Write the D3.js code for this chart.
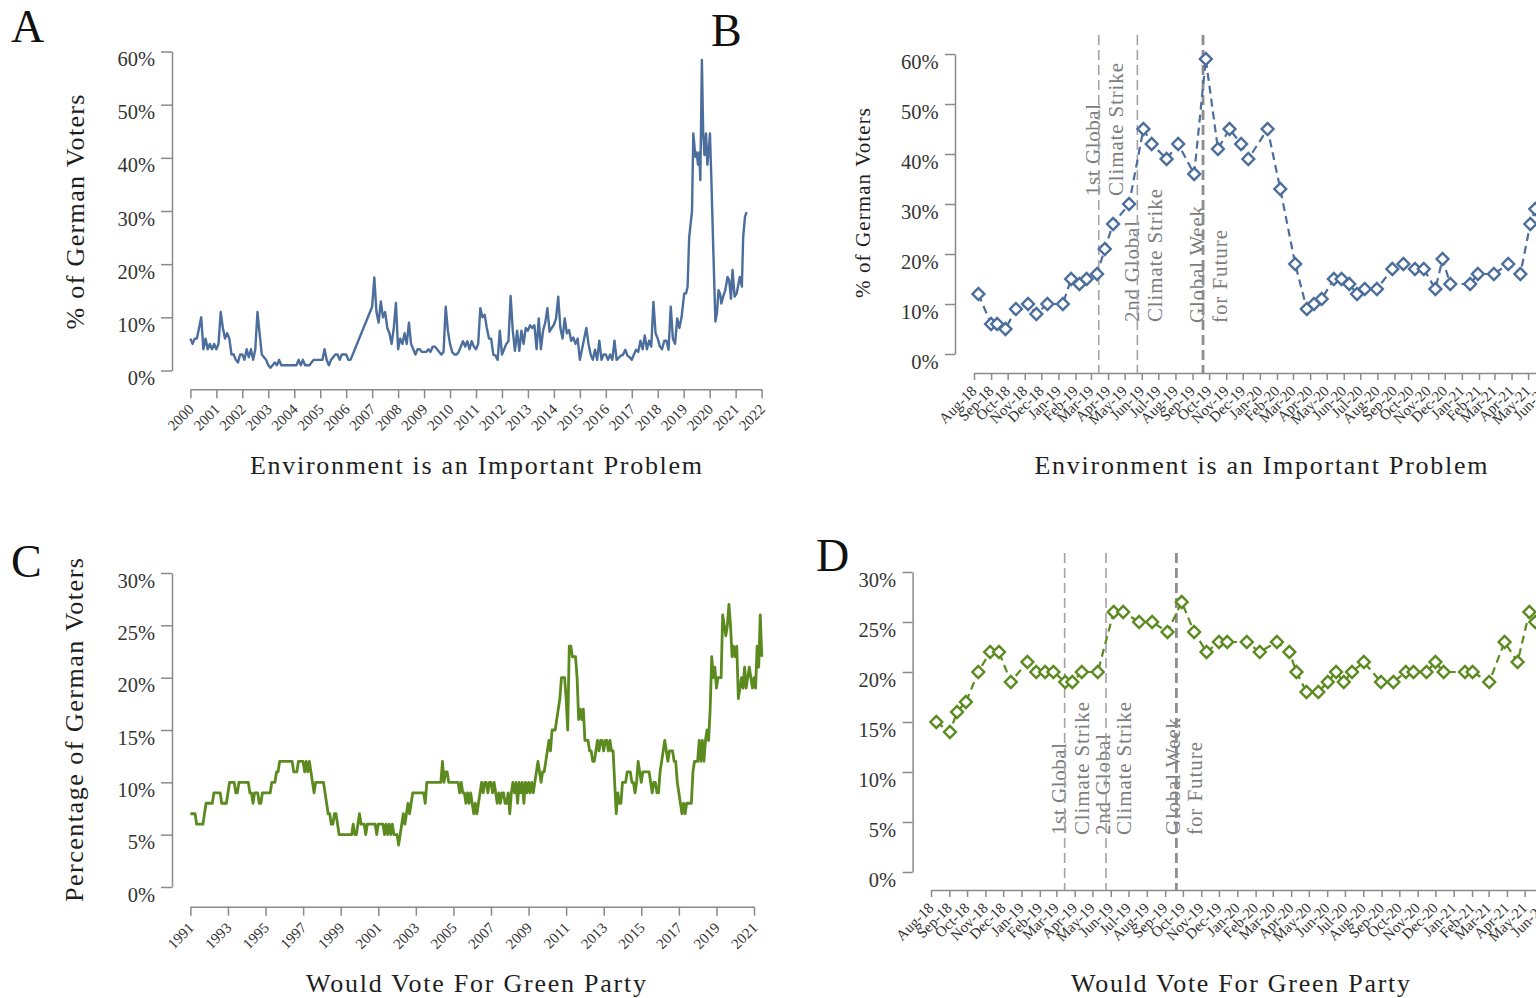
<!DOCTYPE html>
<html><head><meta charset="utf-8">
<script src="https://cdn.jsdelivr.net/npm/d3@7"></script>
<style>
body{margin:0;background:#fff;}
svg{display:block;background:#fff;}
</style></head><body>
<svg id="chart" width="1536" height="998"></svg>
<script>
// ---------------- DATA ----------------
// Panel A: environment is an important problem, monthly from Jan 2000 (null = no survey)
const envStartYear = 2000;
const envMonthly = [
  6,5,6,6,8,10,4,6,4,5,4,5,              // 2000
  4,5,11,8,6,7,6,3,3,2,1.5,3,            // 2001
  3,2,4,2.5,4,2,4,11,7,3,2.5,2,          // 2002
  1,0.5,1,1.5,1,2,1,1,1,1,1,1,           // 2003
  1,1,2,1,2,1,1,1,1.5,2,2,2,             // 2004
  2,2,4,2,1,2,2.5,3,3,2,3,3,             // 2005
  3,2,2,null,null,null,null,null,null,null,null,null, // 2006
  12,17.5,11,9,13,10,11,8,7,5,8,12.7,    // 2007
  4,6,5,7,5,9,5,4,3,4,4,3.5,             // 2008
  3.5,3.5,4,3.5,4.5,4.5,4,3.5,3,3.5,12,7.5, // 2009
  5,3.5,3,3,3.5,4.5,5.5,4.5,5.5,4,5.5,4.5, // 2010
  4,5,11.7,10,10.5,8,6,6,3,2.8,2,7.5,    // 2011
  3,4,5,5.5,14,7.5,3.7,7.5,3.7,7.5,5,8,  // 2012
  7.5,8.5,8,8.5,4,9.8,4,7.5,9,11.7,7.3,8, // 2013
  8.6,9.8,13.9,8,6,9.8,7,7.6,5.6,6.2,5,6, // 2014
  2,4,6,8,5,3,2,3.9,2,5.6,2,3,           // 2015
  3,2,3,2,5.6,2,2.4,2.8,3,3.9,2.8,2.5,   // 2016
  2,3,3.9,3.5,5.6,4,6.6,4,5.6,4.5,12.9,7, // 2017
  6,4.5,4,5.6,5.6,3.9,12,6,5,9.8,8,10    // 2018
];
// Panel A: individual surveys from 2019 on (decimal years)
const envRecentDates = [2019.02,2019.09,2019.15,2019.21,2019.32,2019.37,2019.45,2019.50,2019.55,2019.60,
  2019.64,2019.70,2019.75,2019.80,2019.86,2019.91,2019.96,2020.01,2020.07,2020.14,2020.22,2020.28,
  2020.34,2020.40,2020.45,2020.52,2020.60,2020.69,2020.75,2020.82,2020.88,2020.96,2021.04,2021.09,
  2021.16,2021.24,2021.29,2021.36,2021.42];
const envRecentValues = [14.5,14.5,15.8,25,30,44.6,40.2,41,38.7,41,
  35.8,58.4,44.6,40.5,44.6,38.7,41,44.6,35.2,22.6,9.2,10.8,
  15.1,14.5,12.6,13.9,15.1,17.6,17,13.5,18.9,13.9,14.5,15.8,
  17.6,15.8,25.1,28.9,29.8];
const envYearTicks = [2000,2001,2002,2003,2004,2005,2006,2007,2008,2009,2010,2011,
  2012,2013,2014,2015,2016,2017,2018,2019,2020,2021,2022];
const envPctTicks = [0,10,20,30,40,50,60];

// Panel B: environment important, individual surveys Aug 2018 - May 2021
const climateDates = ["2018-08-09","2018-09-01","2018-09-12","2018-09-27","2018-10-16","2018-11-07",
  "2018-11-22","2018-12-12","2019-01-09","2019-01-24","2019-02-08","2019-02-21","2019-03-12",
  "2019-03-26","2019-04-10","2019-05-09","2019-06-04","2019-06-19","2019-07-16","2019-08-06",
  "2019-09-04","2019-09-25","2019-10-17","2019-11-07","2019-11-28","2019-12-11","2020-01-15",
  "2020-02-07","2020-03-05","2020-03-26","2020-04-08","2020-04-22","2020-05-14","2020-05-28",
  "2020-06-11","2020-06-25","2020-07-09","2020-07-31","2020-08-28","2020-09-17","2020-10-08",
  "2020-10-24","2020-11-14","2020-11-27","2020-12-11","2021-01-16","2021-01-30","2021-02-28",
  "2021-03-26","2021-04-17","2021-05-05","2021-05-14"];
const climateValues = [12,6,6,5,9,10,8,10,10,15,14,15,16,21,26,30,45,42,39,42,36,59,41,45,42,39,45,
  33,18,9,10,11,15,15,14,12,13,13,17,18,17,17,13,19,14,14,16,16,18,16,26,29];

// Panel C: would vote Green, monthly from Jan 1991
const greenStartYear = 1991;
const greenMonthly = [
  7,7,7,7,6,6,6,6,6,7,8,8,          // 1991
  8,8,8,9,9,9,9,9,8,8,8,8,          // 1992
  9,10,10,10,10,9,9,10,10,10,10,10, // 1993
  10,10,9,9,8,9,9,9,8,8,9,9,        // 1994
  9,9,9,9,10,10,10,11,11,12,12,12,  // 1995
  12,12,12,12,12,12,11,11,11,12,12,12, // 1996
  12,11,12,11,12,11,10,9,10,10,10,10, // 1997
  10,10,9,8,7,7,6,6,7,7,6,5,        // 1998
  5,5,5,5,5,5,5,5,6,5,5,6,          // 1999
  7,6,6,6,5,6,6,6,6,6,6,5,          // 2000
  6,6,6,6,5,6,5,6,5,6,5,5,          // 2001
  5,4,5,6,7,6,7,8,7,8,9,9,          // 2002
  9,9,9,9,9,9,8,10,10,10,10,10,     // 2003
  10,10,10,10,10,12,10,11,11,10,10,10, // 2004
  10,10,10,10,9,10,9,9,8,9,8,9,     // 2005
  8,7,8,7,8,9,10,9,10,10,9,10,      // 2006
  10,9,10,9,8,9,8,9,9,8,8,9,        // 2007
  7,9,10,9,10,8,10,9,10,8,10,9,     // 2008
  10,9,10,9,10,11,12,11,10,11,11,12, // 2009
  13,14,13,15,15,15,16,17,18,20,20,20, // 2010
  18,15,23,23,22,22,22,20,16,17,16,17, // 2011
  14,14,14,13,13,12,12,13,14,13,14,14, // 2012
  13,14,14,13,14,13,13,10,7,9,8,8,  // 2013
  10,10,10,11,11,11,10,10,9,10,12,11, // 2014
  10,11,11,11,11,11,10,9,10,10,9,9, // 2015
  11,12,13,14,13,12,13,13,13,12,12,10, // 2016
  9,8,7,8,7,8,8,8,8,11,12,12,       // 2017
  12,14,12,14,12,14,15,14,17,22,20,21, // 2018
  19,20,20,20,26,25,24,25,27,25,22,23, // 2019
  22,23,18,19,20,19,21,19,20,21,20,19, // 2020
  20,19,23,21,26,22                 // 2021
];
const greenYearTicks = [1991,1993,1995,1997,1999,2001,2003,2005,2007,2009,2011,2013,2015,2017,2019,2021];
const greenPctTicks = [0,5,10,15,20,25,30];

// Panel D: would vote Green, individual surveys Aug 2018 - May 2021
const greenDates = ["2018-08-10","2018-09-02","2018-09-14","2018-09-29","2018-10-20","2018-11-09",
  "2018-11-24","2018-12-14","2019-01-11","2019-01-26","2019-02-10","2019-02-24","2019-03-16",
  "2019-03-28","2019-04-13","2019-05-10","2019-06-06","2019-06-22","2019-07-19","2019-08-10",
  "2019-09-05","2019-09-29","2019-10-20","2019-11-10","2019-12-01","2019-12-15","2020-01-17",
  "2020-02-08","2020-03-08","2020-03-29","2020-04-10","2020-04-27","2020-05-17","2020-06-02",
  "2020-06-16","2020-06-29","2020-07-13","2020-08-02","2020-08-31","2020-09-21","2020-10-12",
  "2020-10-25","2020-11-16","2020-12-01","2020-12-15","2021-01-20","2021-02-02","2021-03-02",
  "2021-03-28","2021-04-19","2021-05-09","2021-05-19"];
const greenValues = [15,14,16,17,20,22,22,19,21,20,20,20,19,19,20,20,26,26,25,25,24,27,24,22,23,23,23,
  22,23,22,20,18,18,19,20,19,20,21,19,19,20,20,20,21,20,20,20,19,23,21,26,25];

// Events
const eventDates = ["2019-03-15","2019-05-24","2019-09-20"];
const eventLabels = [["1st Global","Climate Strike"],["2nd Global","Climate Strike"],["Global Week","for Future"]];
const monthTickStart = "2018-08-01", monthTickEnd = "2021-06-01";

// ---------------- STYLE ----------------
const FONT = '"Liberation Serif","Times New Roman",serif';
const AXIS = "#8a8a8a", TXT = "#333", BLUE = "#4b6e9c", GREEN = "#5b8a1f", EVT = "#a3a3a3";
const svg = d3.select("#chart");
const parse = s => new Date(s + "T00:00:00Z");

function txt(x, y, s, size, opts = {}) {
  const t = svg.append("text").attr("x", x).attr("y", y).text(s)
    .attr("font-family", FONT).attr("font-size", size).attr("fill", opts.fill || "#1e1e1e")
    .attr("text-anchor", opts.anchor || "start");
  if (opts.rotate) t.attr("transform", `rotate(${opts.rotate},${x},${y})`);
  if (opts.len) t.attr("textLength", opts.len).attr("lengthAdjust", "spacing");
  return t;
}

function yAxis(scale, x, ticks, tick, pad) {
  const g = svg.append("g").attr("transform", `translate(${x},0)`)
    .call(d3.axisLeft(scale).tickValues(ticks).tickSize(tick).tickSizeOuter(0).tickPadding(pad).tickFormat(d => d + "%"));
  g.attr("font-family", FONT).attr("font-size", 20.5);
  g.selectAll("path.domain, line").attr("stroke", AXIS).attr("stroke-width", 1.5);
  g.selectAll("text").attr("fill", TXT).attr("dy", null).attr("y", 14);
  return g;
}
function xAxis(axis, y, dx, dy, size) {
  const g = svg.append("g").attr("transform", `translate(0,${y})`).call(axis);
  g.attr("font-family", FONT).attr("font-size", size);
  g.selectAll("path.domain, line").attr("stroke", AXIS).attr("stroke-width", 1.5);
  g.selectAll("text").attr("fill", TXT).attr("y", null).attr("dy", null)
    .attr("text-anchor", "end").attr("transform", `translate(${dx},${dy}) rotate(-45)`);
  return g;
}

// ---------------- PANEL A ----------------
const xA = d3.scaleLinear().domain([2000, 2022]).range([190.4, 761.6]);
const yA = d3.scaleLinear().domain([0, 60]).range([370.5, 51.5]);
yAxis(yA, 172, envPctTicks, 11, 6);
xAxis(d3.axisBottom(xA).tickValues(envYearTicks).tickSize(9).tickSizeOuter(0).tickFormat(d3.format("d")), 389.3, 4, 21, 15);
const envSeries = envMonthly.map((v, i) => ({ t: envStartYear + i / 12, v }))
  .filter(d => d.v !== null)
  .concat(envRecentDates.map((t, i) => ({ t, v: envRecentValues[i] })));
svg.append("path").datum(envSeries).attr("fill", "none").attr("stroke", BLUE).attr("stroke-width", 2.4)
  .attr("stroke-linejoin", "round")
  .attr("d", d3.line().x(d => xA(d.t)).y(d => yA(d.v)));
txt(11, 42, "A", 46, { fill: "#111" });
txt(84, 212, "% of German Voters", 26, { anchor: "middle", rotate: -90, len: 235 });
txt(476, 474, "Environment is an Important Problem", 26, { anchor: "middle", len: 452 });

// ---------------- PANEL C ----------------
const xC = d3.scaleLinear().domain([1991, 2021]).range([190.4, 754]);
const yC = d3.scaleLinear().domain([0, 30]).range([887, 573]);
yAxis(yC, 172, greenPctTicks, 11, 6);
xAxis(d3.axisBottom(xC).tickValues(greenYearTicks).tickSize(9).tickSizeOuter(0).tickFormat(d3.format("d")), 906.7, 4, 22, 15);
const greenSeries = greenMonthly.map((v, i) => ({ t: greenStartYear + i / 12, v }));
svg.append("path").datum(greenSeries).attr("fill", "none").attr("stroke", GREEN).attr("stroke-width", 2.8)
  .attr("stroke-linejoin", "round")
  .attr("d", d3.line().x(d => xC(d.t)).y(d => yC(d.v)));
txt(11, 577, "C", 46, { fill: "#111" });
txt(83, 730, "Percentage of German Voters", 26, { anchor: "middle", rotate: -90, len: 344 });
txt(476, 992, "Would Vote For Green Party", 26, { anchor: "middle", len: 340 });

// ---------------- PANELS B & D ----------------
const annotWidths = [[92, 133], [101, 133], [117, 93]];
function recentPanel(cfg) {
  const x = d3.scaleUtc().domain([parse(monthTickStart), parse(monthTickEnd)]).range([cfg.x0, cfg.x0 + 34 * cfg.pxMonth]);
  const y = d3.scaleLinear().domain([0, cfg.max]).range([cfg.yBottom, cfg.yTop]);
  yAxis(y, cfg.yAxisX, cfg.ticks, 10, 6.5);
  xAxis(d3.axisBottom(x).ticks(d3.utcMonth.every(1)).tickSize(7).tickSizeOuter(0).tickFormat(d3.utcFormat("%b-%y")),
    cfg.xAxisY, 3, 19, 15);
  // event annotations
  eventDates.forEach((ds, i) => {
    const ex = x(parse(ds));
    eventLabels[i].forEach((s, j) => {
      const bx = ex + cfg.offsets[i][j], by = cfg.bottoms[i];
      svg.append("text").attr("transform", `translate(${bx},${by}) rotate(-90)`).text(s)
        .attr("font-family", FONT).attr("font-size", 21).attr("fill", "#7d7d7d")
        .attr("textLength", annotWidths[i][j]).attr("lengthAdjust", "spacing");
    });
    svg.append("line").attr("x1", ex).attr("x2", ex).attr("y1", cfg.evTop).attr("y2", cfg.xAxisY)
      .attr("stroke", i === 2 ? "#8e8e8e" : EVT).attr("stroke-width", i === 2 ? 2.8 : 1.6)
      .attr("stroke-dasharray", "10,5");
  });
  const pts = cfg.dates.map((d, i) => ({ t: parse(d), v: cfg.values[i] }));
  svg.append("path").datum(pts).attr("fill", "none").attr("stroke", cfg.color).attr("stroke-width", 2.2)
    .attr("stroke-dasharray", "8,5")
    .attr("d", d3.line().x(d => x(d.t)).y(d => y(d.v)));
  const sym = d3.symbol().type(d3.symbolSquare).size(72);
  svg.append("g").selectAll("path").data(pts).join("path")
    .attr("d", sym)
    .attr("transform", d => `translate(${x(d.t)},${y(d.v)}) rotate(45)`)
    .attr("fill", "#fff").attr("stroke", cfg.color).attr("stroke-width", 2.3);
}

recentPanel({
  x0: 974, pxMonth: 16.8, yTop: 54, yBottom: 354, max: 60, yAxisX: 955, xAxisY: 373,
  ticks: envPctTicks, evTop: 35, bottoms: [196, 322, 323],
  offsets: [[1.5, 24.5], [1.8, 24.8], [1.2, 24.2]],
  dates: climateDates, values: climateValues, color: BLUE
});
txt(711, 46, "B", 46, { fill: "#111" });
txt(870, 203, "% of German Voters", 21, { anchor: "middle", rotate: -90, len: 190 });
txt(1261, 474, "Environment is an Important Problem", 26, { anchor: "middle", len: 453 });

recentPanel({
  x0: 931, pxMonth: 18, yTop: 572, yBottom: 872, max: 30, yAxisX: 912.6, xAxisY: 890,
  ticks: greenPctTicks, evTop: 553, bottoms: [835, 835, 835],
  offsets: [[1.5, 24.5], [3.5, 25], [3.5, 25.5]],
  dates: greenDates, values: greenValues, color: GREEN
});
txt(816, 571, "D", 46, { fill: "#111" });
txt(1240.5, 992, "Would Vote For Green Party", 26, { anchor: "middle", len: 339 });
</script>
</body></html>
